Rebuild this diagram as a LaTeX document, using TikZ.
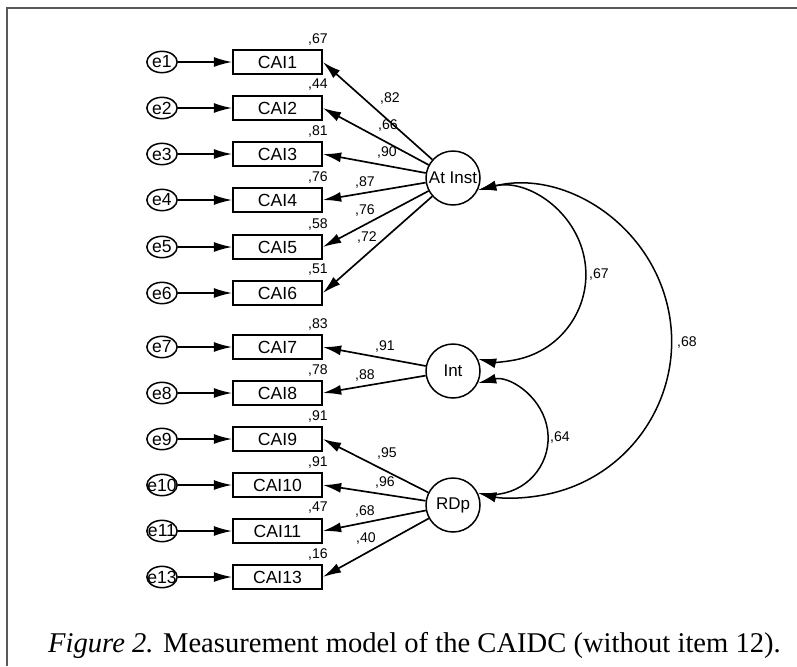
\documentclass[tikz,border=0pt]{standalone}
\usepackage{fontspec}
\setmainfont{Liberation Serif}
\newfontfamily\amosfont{Liberation Sans}
\usetikzlibrary{arrows.meta, shapes.geometric, calc}

\tikzset{
  item/.style={draw, line width=0.5mm, minimum width=26.7mm, minimum height=7.2mm,
    inner sep=0pt, font=\amosfont\fontsize{15}{16}\selectfont},
  errterm/.style={draw, ellipse, line width=0.45mm, minimum width=9.1mm,
    minimum height=6.4mm, inner sep=0pt, font=\amosfont\fontsize{15}{16}\selectfont},
  factor/.style={draw, circle, line width=0.45mm, minimum size=16.2mm, inner sep=0pt,
    font=\amosfont\fontsize{14.5}{16}\selectfont},
  coef/.style={inner sep=0pt, font=\amosfont\fontsize{12}{13}\selectfont},
  reg/.style={line width=0.5mm, -{Latex[length=5.5mm, width=3mm]}},
  cov/.style={line width=0.45mm, {Latex[length=5.5mm, width=3mm]}-{Latex[length=5.5mm, width=3mm]}},
}

\begin{document}
\begin{tikzpicture}[x=0.3mm, y=-0.3mm]
    \useasboundingbox (0,0) rectangle (797,666);
    % Frame
    \draw[line width=0.6mm, black!65] (797,8) -- (7,8) -- (7,666);

    % Latent factors
    \node[factor] (ati) at (453,178) {At Inst};
    \node[factor] (int) at (453,371) {Int};
    \node[factor] (rdp) at (453,505) {RDp};

    % Items, error terms and loadings
    \foreach \n/\yy/\rsq/\f in {1/62/67/ati, 2/108/44/ati, 3/154/81/ati, 4/200/76/ati,
        5/247/58/ati, 6/293/51/ati, 7/347/83/int, 8/393/78/int, 9/439/91/rdp,
        10/485/91/rdp, 11/531/47/rdp, 13/577/16/rdp} {
        \node[item] (cai\n) at (277.5,\yy) {CAI\n};
        \node[errterm] (e\n) at (162,\yy) {\makebox[0pt]{e\n}};
        \node[coef] (r\n) at (318,\yy-23) {,\rsq};
        \draw[reg] (e\n) -- (cai\n);
        \draw[reg] (\f) -- (cai\n.east);
    }

    % Loading values
    \foreach \x/\yy/\v [count=\k] in {390/98/82, 388/125/66, 387/152/90, 365/182/87,
        365/210/76, 367/237/72, 385/346/91, 365/375/88, 387/453/95, 385/482/96,
        365/511/68, 366/538/40} {
        \node[coef] (l\k) at (\x,\yy) {,\v};
    }

    % Covariances
    \draw[cov] let \p1=(ati.-26), \p2=(int.26), \n1={(\y1-\y2)/(2*sin(104))} in
        (\p1) arc[start angle=104, end angle=-104, radius=\n1];
    \draw[cov] let \p1=(int.-26), \p2=(rdp.26), \n1={(\y1-\y2)/(2*sin(104))} in
        (\p1) arc[start angle=104, end angle=-104, radius=\n1];
    \draw[cov] let \p1=(ati.-26), \p2=(rdp.26), \n1={(\y1-\y2)/(2*sin(104))} in
        (\p1) arc[start angle=104, end angle=-104, radius=\n1];
    \node[coef, anchor=west] (c1) at (589,274) {,67};
    \node[coef, anchor=west] (c2) at (550,437) {,64};
    \node[coef, anchor=west] (c3) at (677,342) {,68};

    % Caption
    \node[anchor=base, font=\fontsize{24.4}{27}\selectfont] (caption) at (414.5,652)
        {\textit{Figure 2.} Measurement model of the CAIDC (without item 12).};
\end{tikzpicture}
\end{document}
